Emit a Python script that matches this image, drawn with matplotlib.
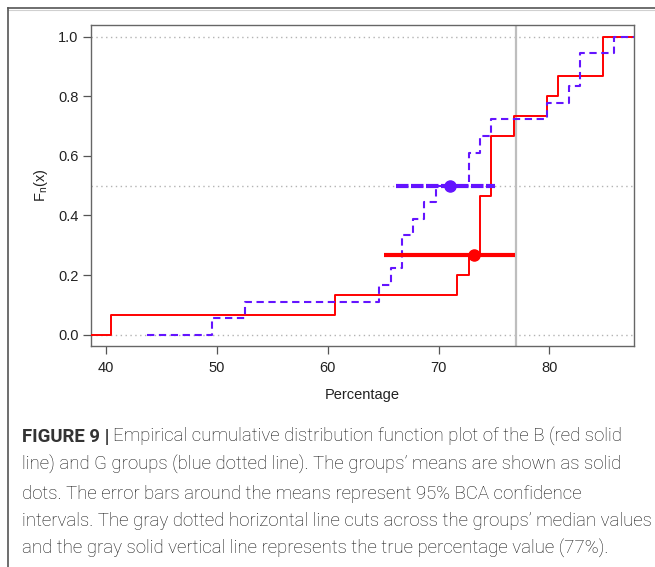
import numpy as np
import matplotlib.pyplot as plt
from matplotlib.lines import Line2D

plt.rcParams["font.family"] = ["Liberation Sans", "DejaVu Sans"]
plt.rcParams["mathtext.fontset"] = "custom"
plt.rcParams["mathtext.rm"] = "Liberation Sans"
plt.rcParams["mathtext.it"] = "Liberation Sans"

# percentages
group_b = [40.42, 60.64, 71.68, 72.74, 73.73, 73.73, 73.73, 74.78, 74.78,
           74.78, 76.77, 79.80, 80.83, 84.87, 84.87]
group_g = [49.51, 52.52, 64.64, 65.67, 66.66, 66.66, 67.68, 68.67, 69.73,
           72.74, 72.74, 73.73, 74.75, 79.80, 81.82, 82.81, 82.81, 85.87]

# means and 95% BCA intervals (B, G)
mean_x = [73.21, 71.03]
mean_y = [0.267, 0.5]
ci_low = [65.09, 66.20]
ci_high = [76.88, 75.08]

true_value = 77
ref_levels = [0.0, 0.5, 1.0]

RED = "#FF0000"
BLUE = "#6414FF"

caption = [
    "line) and G groups (blue dotted line). The groups\u2019 means are shown as solid",
    "dots. The error bars around the means represent 95% BCA confidence",
    "intervals. The gray dotted horizontal line cuts across the groups\u2019 median values",
    "and the gray solid vertical line represents the true percentage value (77%).",
]
CAP_FONT = ["Roboto", "Liberation Sans", "DejaVu Sans"]
CAP_SIZE = 13.4
CAP_COLOR = "#111111"


def ecdf_xy(values, x_start, x_end):
    v = np.sort(np.asarray(values))
    u, c = np.unique(v, return_counts=True)
    y = np.cumsum(c) / len(v)
    xs = np.concatenate([[x_start], u, [x_end]])
    ys = np.concatenate([[0.0], y, [1.0]])
    return xs, ys


fig = plt.figure(figsize=(6.55, 5.67), dpi=100)
ax = fig.add_axes([91 / 655, 1 - 346 / 567, (634 - 91) / 655, (346 - 25) / 567])

for lv in ref_levels:
    ax.axhline(lv, color="#B3B3B3", lw=1.0, ls=(0, (1, 2.5)), zorder=1)
ax.axvline(true_value, color="#BEBEBE", lw=1.6, zorder=1)

xs, ys = ecdf_xy(group_b, 30, 95)
ax.step(xs, ys, where="post", color=RED, lw=1.4, zorder=3)
xs, ys = ecdf_xy(group_g, 43.65, 95)
ax.step(xs, ys, where="post", color=BLUE, lw=1.5, ls=(0, (3.5, 2.2)), zorder=3)

ax.plot([ci_low[0], ci_high[0]], [mean_y[0]] * 2, color=RED, lw=3, zorder=4,
        solid_capstyle="butt")
ax.plot([ci_low[1], ci_high[1]], [mean_y[1]] * 2, color=BLUE, lw=3, zorder=4,
        ls=(0, (3, 0.6)))
ax.plot(mean_x[0], mean_y[0], "o", color=RED, ms=8, zorder=5)
ax.plot(mean_x[1], mean_y[1], "o", color=BLUE, ms=8, zorder=5)

ax.set_xlim(38.62, 87.65)
ax.set_ylim(-0.038, 1.039)
ax.set_xticks([40, 50, 60, 70, 80])
ax.set_yticks([0.0, 0.2, 0.4, 0.6, 0.8, 1.0])
ax.set_yticklabels(["0.0", "0.2", "0.4", "0.6", "0.8", "1.0"])
for s in ax.spines.values():
    s.set_color("#666666")
    s.set_linewidth(1.0)
ax.tick_params(length=6, width=0.9, color="#555555", labelsize=10.5,
               labelcolor="#222222")
ax.tick_params(axis="x", pad=5)
ax.tick_params(axis="y", pad=3)
ax.set_xlabel("Percentage", fontsize=10.5, color="#222222", labelpad=9)
ax.set_ylabel(r"$\mathrm{F_n(x)}$", fontsize=10.5, color="#222222", labelpad=6)

# outer frame of the figure panel
fig.add_artist(Line2D([8 / 655, 1], [1 - 8 / 567] * 2, color="#555555", lw=1.2))
fig.add_artist(Line2D([8 / 655, 1], [1 - 9.8 / 567] * 2, color="#D0D0D0", lw=0.8))
fig.add_artist(Line2D([8 / 655] * 2, [0, 1 - 8 / 567], color="#555555", lw=1.2))

# caption
cap_x = 22 / 655
line_y = [437, 465, 494, 521, 549]
r = fig.canvas.get_renderer()
t = fig.text(cap_x, 1 - line_y[0] / 567, "FIGURE 9 |", fontsize=CAP_SIZE,
             family=CAP_FONT, fontweight="bold", color="#333333", va="center")
bb = t.get_window_extent(renderer=r)
fig.text((bb.x1 + 4) / 655, 1 - line_y[0] / 567,
         "Empirical cumulative distribution function plot of the B (red solid",
         fontsize=CAP_SIZE, family=CAP_FONT, fontweight="light",
         color=CAP_COLOR, va="center")
for yy, line in zip(line_y[1:], caption):
    fig.text(cap_x, 1 - yy / 567, line, fontsize=CAP_SIZE, family=CAP_FONT,
             fontweight="light", color=CAP_COLOR, va="center")

fig.savefig("out.png", dpi=100)
